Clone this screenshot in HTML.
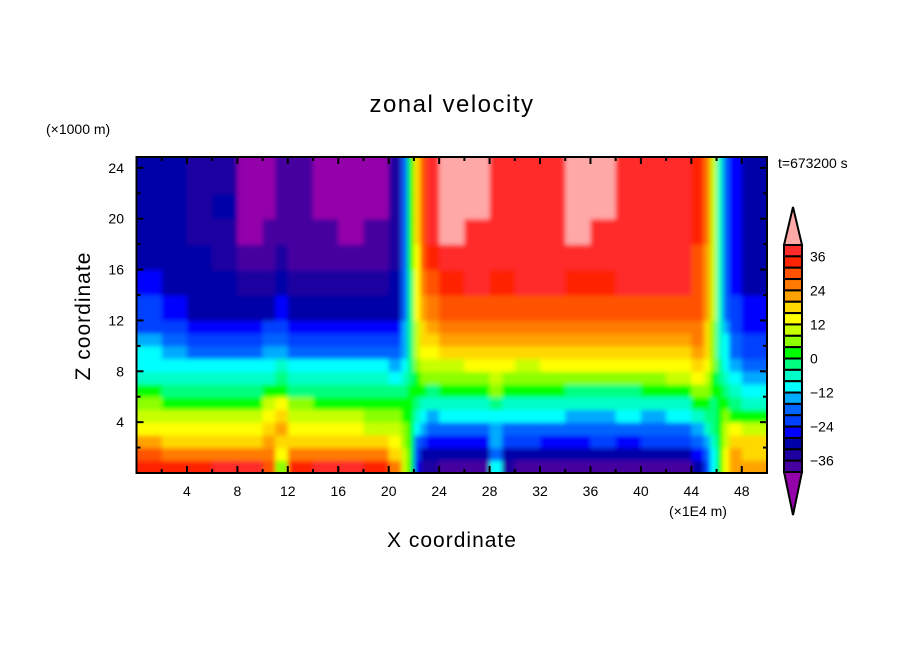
<!DOCTYPE html>
<html><head><meta charset="utf-8"><style>
html,body{margin:0;padding:0;background:#fff;}
svg{display:block;font-family:"Liberation Sans","DejaVu Sans",sans-serif;}
</style></head><body>
<svg id="chart" width="904" height="654" viewBox="0 0 904 654">
<defs>
<clipPath id="plotclip"><rect x="136.5" y="157" width="630.5" height="316"/></clipPath>
<filter id="soft" x="-5%" y="-5%" width="110%" height="110%"><feGaussianBlur stdDeviation="2.5"/></filter>
</defs>
<text x="452" y="112" text-anchor="middle" font-size="24" letter-spacing="1.5">zonal velocity</text>
<text x="46" y="134" font-size="14">(×1000 m)</text>
<text x="778" y="168" font-size="14">t=673200 s</text>
<text x="669" y="516" font-size="14">(×1E4 m)</text>
<text x="452" y="547" text-anchor="middle" font-size="21" letter-spacing="1">X coordinate</text>
<text x="0" y="0" transform="translate(90,316) rotate(-90)" text-anchor="middle" font-size="21" letter-spacing="1">Z coordinate</text>
<g clip-path="url(#plotclip)"><g id="cells" filter="url(#soft)"></g></g>
<g id="axes"></g>
<g id="cbar"></g>
</svg>
<script>
var xEdges=[0,2,4,6,8,10,11,12,14,16,18,20,21,21.5,22,22.5,23,24,26,28,29,30,32,34,36,38,40,42,44,45,45.5,46,46.5,47,48,50];
var zEdges=[0,1,2,3,4,5,6,7,8,9,10,11,12,14,16,18,20,22,25];
// rows listed bottom (z 0-1) to top (z 22-25)
var velocity=[
[36,34,36,38,40,30,6,34,38,38,36,28,12,2,-24,-32,-34,-36,-36,-10,-34,-36,-38,-36,-36,-36,-36,-36,-30,-20,-10,2,14,24,22],
[30,26,26,28,28,26,14,26,28,28,26,20,10,2,-20,-28,-30,-30,-30,-18,-28,-28,-30,-28,-28,-30,-28,-28,-24,-18,-10,2,14,22,20],
[22,20,20,20,20,22,18,20,20,20,18,14,8,2,-16,-22,-26,-24,-24,-14,-22,-22,-24,-24,-22,-24,-22,-22,-18,-14,-6,2,12,20,18],
[16,14,14,14,14,18,22,14,14,14,12,10,6,2,-10,-14,-18,-16,-16,-12,-16,-16,-18,-18,-16,-18,-16,-16,-12,-6,-2,4,10,14,12],
[12,10,10,10,10,14,20,10,10,10,8,6,4,2,-6,-10,-12,-10,-10,-8,-10,-10,-10,-12,-12,-10,-12,-10,-4,-2,0,2,6,4,2],
[6,4,4,4,4,10,14,6,4,4,2,2,2,2,-2,-4,-6,-4,-4,-2,-4,-4,-4,-6,-6,-6,-4,-4,2,2,0,2,4,0,-4],
[2,0,0,-2,-2,2,4,0,0,-2,-2,-2,0,2,2,2,0,2,2,6,2,2,2,0,0,0,2,2,8,6,4,2,0,-4,-8],
[-4,-6,-6,-6,-6,-4,-2,-4,-6,-6,-6,-8,-4,0,4,6,6,8,8,10,8,8,8,8,8,8,8,10,14,10,4,0,-4,-10,-14],
[-8,-10,-10,-10,-10,-10,-6,-10,-10,-10,-10,-12,-8,0,8,10,12,12,14,16,14,12,14,14,14,14,14,16,20,14,6,-2,-8,-12,-16],
[-10,-14,-16,-16,-16,-14,-12,-16,-16,-16,-16,-18,-12,0,10,14,16,18,18,20,18,18,18,18,18,18,18,20,24,18,6,-4,-10,-16,-20],
[-14,-18,-22,-22,-22,-18,-18,-22,-22,-22,-22,-22,-14,0,12,18,20,22,22,24,22,22,22,22,22,22,22,22,26,20,8,-4,-10,-18,-22],
[-20,-22,-26,-26,-26,-22,-22,-26,-26,-26,-26,-26,-14,0,12,20,24,26,26,28,26,26,26,26,26,26,26,26,28,20,8,-4,-12,-20,-24],
[-22,-26,-30,-30,-30,-30,-26,-30,-30,-30,-30,-30,-16,0,14,24,28,30,32,32,30,30,30,30,30,30,30,32,32,22,10,-6,-16,-22,-26],
[-26,-30,-30,-30,-34,-34,-30,-34,-34,-34,-34,-30,-16,0,16,28,32,34,38,34,34,38,38,34,34,38,38,38,32,24,10,-6,-16,-24,-28],
[-30,-30,-30,-34,-38,-38,-34,-38,-38,-38,-38,-34,-16,2,16,30,36,38,38,38,38,38,38,38,38,38,38,38,32,24,10,-6,-16,-24,-30],
[-30,-30,-34,-34,-42,-38,-38,-38,-38,-42,-38,-34,-16,2,18,30,38,42,38,38,38,38,38,42,38,38,38,38,34,26,10,-6,-18,-26,-30],
[-30,-30,-34,-30,-42,-42,-38,-38,-42,-42,-42,-34,-16,2,18,32,38,42,42,38,38,38,38,42,42,38,38,38,34,26,10,-6,-18,-26,-30],
[-30,-30,-34,-34,-42,-42,-38,-38,-42,-42,-42,-34,-16,2,18,32,38,42,42,38,38,38,38,42,42,38,38,38,34,26,10,-6,-18,-26,-30]
];
var levelColors=["#ff2a2a","#ff2400","#ff5200","#ff7a00","#ffa200","#ffd800","#ffff00","#c8ff00","#8cff00","#00ff00","#00ff80","#00ffc8","#00ffff","#00aaff","#0064ff","#0040ff","#0000ff","#0000a8","#1e00a0","#4600a0"];
var overColor="#ffa8a8", underColor="#9400aa";
var cbarLabels=[36,24,12,0,-12,-24,-36];
var xTicks=[4,8,12,16,20,24,28,32,36,40,44,48];
var yTicks=[4,8,12,16,20,24];

var NS="http://www.w3.org/2000/svg";
var X0=136.5,X1=767,Y0=473,Y1=157,XMAX=50,ZMAX=24.85;
function sx(v){return X0+(X1-X0)*v/XMAX;}
function sy(v){return Y0-(Y0-Y1)*Math.min(v,ZMAX)/ZMAX;}
function colorFor(v){if(v>40)return overColor;if(v<-40)return underColor;var i=Math.floor((40-v)/4);if(i<0)i=0;if(i>19)i=19;return levelColors[i];}
function mk(tag,attrs,parent){var e=document.createElementNS(NS,tag);for(var k in attrs)e.setAttribute(k,attrs[k]);parent.appendChild(e);return e;}

var cells=document.getElementById('cells');
for(var r=0;r<velocity.length;r++){for(var c=0;c<velocity[r].length&&c<xEdges.length-1;c++){
 var xa=sx(xEdges[c]),xb=sx(xEdges[c+1]),ya=sy(zEdges[r+1]),yb=sy(zEdges[r]);
 if(c===0)xa-=8;
 if(c===xEdges.length-2)xb+=8;
 if(r===0)yb+=8;
 if(r===velocity.length-1)ya-=8;
 var rc=mk('rect',{x:xa,y:ya,width:xb-xa+0.6,height:yb-ya+0.6,fill:colorFor(velocity[r][c])},cells);
 
 
}}

var axes=document.getElementById('axes');
var fr=mk('rect',{x:X0,y:Y1,width:X1-X0,height:Y0-Y1,fill:'none',stroke:'#000','stroke-width':2},axes);


for(var v=2;v<XMAX;v+=2){var maj=(v%4===0),L=maj?7:4,x=sx(v);
 mk('line',{x1:x,y1:Y0,x2:x,y2:Y0-L,stroke:'#000','stroke-width':2},axes);
 mk('line',{x1:x,y1:Y1,x2:x,y2:Y1+L,stroke:'#000','stroke-width':2},axes);}
for(var v=2;v<ZMAX;v+=2){var maj=(v%4===0),L=maj?7:4,y=sy(v);
 mk('line',{x1:X0,y1:y,x2:X0+L,y2:y,stroke:'#000','stroke-width':2},axes);
 mk('line',{x1:X1,y1:y,x2:X1-L,y2:y,stroke:'#000','stroke-width':2},axes);}
xTicks.forEach(function(t){var e=mk('text',{x:sx(t),y:496,'text-anchor':'middle','font-size':14},axes);e.textContent=t;
 
 });
yTicks.forEach(function(t){var e=mk('text',{x:124,y:sy(t)+5,'text-anchor':'end','font-size':14},axes);e.textContent=t;
 
 });

var cb=document.getElementById('cbar');
var CX0=784,CX1=802,CT=245,CB=472,bh=(CB-CT)/20;
mk('polygon',{points:(CX0)+','+CT+' '+CX1+','+CT+' 793,207',fill:overColor,stroke:'#000','stroke-width':2},cb);
mk('polygon',{points:(CX0)+','+CB+' '+CX1+','+CB+' 793,515',fill:underColor,stroke:'#000','stroke-width':2},cb);
for(var i=0;i<20;i++){var b=mk('rect',{x:CX0,y:CT+i*bh,width:CX1-CX0,height:bh,fill:levelColors[i],stroke:'#000','stroke-width':2},cb);
 
 }
cbarLabels.forEach(function(t){var y=CT+(40-t)/4*bh;var e=mk('text',{x:810,y:y+5,'font-size':14},cb);e.textContent=(t<0?'\u2212'+(-t):String(t));
 
 });
</script>
</body></html>
